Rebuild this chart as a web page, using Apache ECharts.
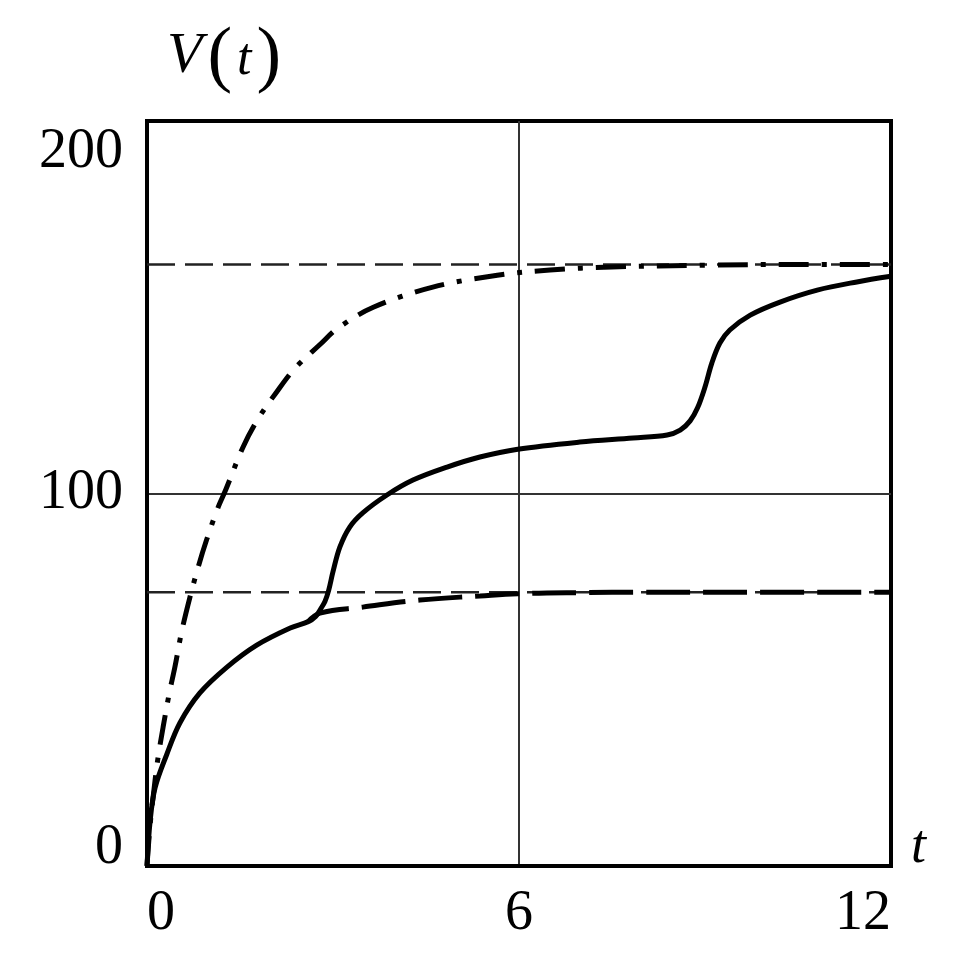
<!DOCTYPE html>
<html>
<head>
<meta charset="utf-8">
<script src="https://cdn.jsdelivr.net/npm/echarts@6/dist/echarts.min.js"></script>
<style>
html,body{margin:0;padding:0;background:#fff;}
#chart{width:972px;height:957px;}
</style>
</head>
<body>
<div id="chart"></div>
<script>
// ---- data ----
const xTicks = [0, 6, 12];
const yTicks = [0, 100, 200];

const dashDotT = [0, 0.05, 0.13, 0.18, 0.26, 0.36, 0.45, 0.56, 0.69, 0.83, 0.96, 1.14, 1.27, 1.55, 1.79, 2.08, 2.39, 2.79, 3.08, 3.65, 4.61, 5.65, 6.5, 7.5, 9, 10.5, 12];
const dashDotV = [0, 11, 23, 29.3, 37.3, 46.4, 53.4, 63, 72, 80.5, 87.5, 96, 101, 112.5, 120, 127, 133.7, 140, 144.4, 150, 155.4, 158.6, 160, 160.8, 161.3, 161.5, 161.5];

const solidT = [0, 0.05, 0.13, 0.32, 0.53, 0.85, 1.29, 1.77, 2.31, 2.6, 2.72, 2.8, 2.87, 2.93, 3.0, 3.11, 3.27, 3.48, 3.87, 4.29, 4.84, 5.37, 5.98, 6.98, 7.84, 8.39, 8.6, 8.76, 8.88, 9.0, 9.11, 9.24, 9.4, 9.73, 10.21, 10.81, 11.45, 12];
const solidV = [0, 12, 21, 30, 38.4, 46.4, 53.4, 59.3, 63.9, 65.6, 67, 69, 71, 74, 79, 85.6, 91, 94.8, 99.6, 103.6, 107.1, 109.8, 111.9, 113.8, 114.9, 115.7, 117, 119.5, 123, 128.6, 135, 140.4, 143.9, 147.9, 151.4, 154.6, 156.8, 158.3];

const dashT = [2.6, 2.79, 3.48, 4.4, 5.37, 5.98, 7, 8, 9, 10, 12];
const dashV = [65.6, 67.9, 69.5, 71.4, 72.5, 73.1, 73.4, 73.5, 73.5, 73.5, 73.5];

const asymptotes = [161.5, 73.5];

const xName = 't';
const yNameParts = ['V', '(', 't', ')'];

// ---- build ----
const pairs = (xs, ys) => xs.map((x, i) => [x, ys[i]]);
const serif = 'Liberation Serif';

const asymSeries = asymptotes.map(v => ({
  type: 'line',
  data: [[xTicks[0], v], [xTicks[xTicks.length - 1], v]],
  symbol: 'none',
  silent: true,
  z: 2,
  lineStyle: { color: '#222', width: 2.5, type: [28, 10] }
}));

const chart = echarts.init(document.getElementById('chart'), null, { renderer: 'canvas' });
chart.setOption({
  animation: false,
  backgroundColor: '#fff',
  grid: {
    left: 147, right: 81, top: 121, bottom: 91,
    show: true, borderColor: '#000', borderWidth: 4, backgroundColor: 'transparent'
  },
  xAxis: {
    type: 'value',
    min: xTicks[0], max: xTicks[xTicks.length - 1], interval: xTicks[1] - xTicks[0],
    axisLine: { show: true, lineStyle: { color: '#000', width: 4 } },
    axisTick: { show: false },
    splitLine: { show: true, showMinLine: false, showMaxLine: false, lineStyle: { color: '#333', width: 2 } },
    axisLabel: {
      fontFamily: serif, fontSize: 56, color: '#000', margin: 20,
      alignMinLabel: 'left', alignMaxLabel: 'right'
    },
    name: xName,
    nameLocation: 'end',
    nameGap: 20,
    nameTextStyle: { fontFamily: serif, fontStyle: 'italic', fontSize: 54, color: '#000', verticalAlign: 'bottom', lineHeight: 36 }
  },
  yAxis: {
    type: 'value',
    min: yTicks[0], max: yTicks[yTicks.length - 1], interval: yTicks[1] - yTicks[0],
    axisLine: { show: true, lineStyle: { color: '#000', width: 4 } },
    axisTick: { show: false },
    splitLine: { show: true, showMinLine: false, showMaxLine: false, lineStyle: { color: '#333', width: 2 } },
    axisLabel: {
      fontFamily: serif, fontSize: 56, color: '#000', margin: 24,
      formatter: function (v) {
        if (v === yTicks[yTicks.length - 1]) return '{top|' + v + '}';
        if (v === yTicks[0]) return '{bot|' + v + '}';
        return '{mid|' + v + '}';
      },
      rich: {
        top: { fontFamily: serif, fontSize: 56, color: '#000', padding: [62, 0, 0, 0] },
        mid: { fontFamily: serif, fontSize: 56, color: '#000' },
        bot: { fontFamily: serif, fontSize: 56, color: '#000', padding: [0, 0, 36, 0] }
      }
    },
    name: '{v|' + yNameParts[0] + '}{p|' + yNameParts[1] + '}{t|' + yNameParts[2] + '}{p|' + yNameParts[3] + '}',
    nameLocation: 'end',
    nameGap: 25,
    nameTextStyle: {
      align: 'left', verticalAlign: 'bottom', padding: [0, 0, 0, 20],
      rich: {
        v: { fontFamily: serif, fontStyle: 'italic', fontSize: 58, color: '#000', padding: [0, 0, 10, 0], verticalAlign: 'bottom' },
        p: { fontFamily: serif, fontSize: 74, color: '#000', padding: [0, 5, 0, 5], verticalAlign: 'bottom' },
        t: { fontFamily: serif, fontStyle: 'italic', fontSize: 52, color: '#000', padding: [0, 0, 10, 0], verticalAlign: 'bottom' }
      }
    }
  },
  series: asymSeries.concat([
    {
      type: 'line', name: 'limit', data: pairs(dashT, dashV), symbol: 'none', smooth: 0.4, z: 3,
      lineStyle: { color: '#000', width: 5, type: [44, 13] }
    },
    {
      type: 'line', name: 'fast', data: pairs(dashDotT, dashDotV), symbol: 'none', smooth: 0.35, z: 4,
      lineStyle: { color: '#000', width: 5, type: [30, 13, 5, 13] }
    },
    {
      type: 'line', name: 'V', data: pairs(solidT, solidV), symbol: 'none', smooth: 0.35, z: 5,
      lineStyle: { color: '#000', width: 5 }
    }
  ])
});
</script>
</body>
</html>
